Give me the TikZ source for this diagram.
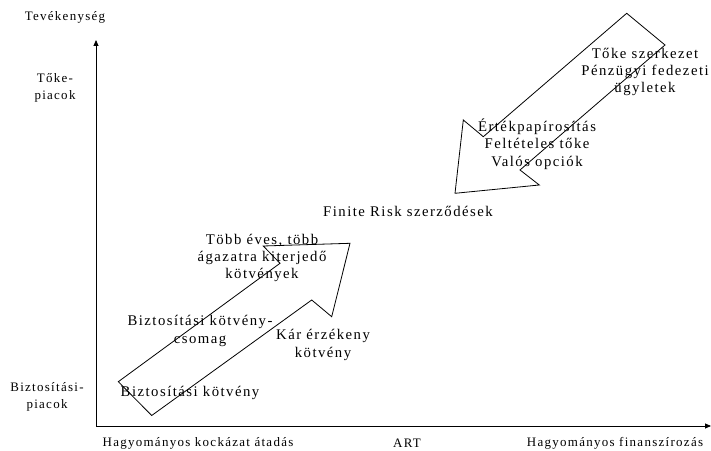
\documentclass[tikz,border=0pt]{standalone}
\usepackage{fontspec}
\setmainfont{Liberation Serif}[LetterSpace=10]
\usetikzlibrary{arrows.meta}
\begin{document}
\begin{tikzpicture}[x=1bp,y=-1bp,
  lbl/.style={font=\fontsize{14.8}{17.5}\selectfont, align=center, inner sep=0pt},
  axislbl/.style={font=\fontsize{13}{16.5}\selectfont, align=center, inner sep=0pt},
  axis/.style={line width=0.8bp, -{Triangle[length=6bp,width=5bp]}},
  bigarrow/.style={draw, line width=0.8bp, line join=miter}]
\useasboundingbox (0,0) rectangle (711,451);
% axes
\coordinate (o) at (96,426);
\coordinate (ytop) at (96,40);
\coordinate (xend) at (711,426);
\draw[axis] (o) -- (ytop);
\draw[axis] (o) -- (xend);
% up arrow
\draw[bigarrow] (118.3,381.7) -- (280,263.3) -- (263.3,246) -- (350,243.3) -- (331.7,316.7) -- (311.7,300) -- (151.7,415.5) -- cycle;
% down arrow
\draw[bigarrow] (626.7,13.3) -- (665,45) -- (520,170) -- (539.3,185) -- (455,193.3) -- (463.3,120) -- (483.3,136.7) -- cycle;
% axis labels
\node[axislbl] (tev) at (65,17) {Tevékenység};
\node[axislbl] (toke) at (55,88) {Tőke-\\piacok};
\node[axislbl] (bizp) at (47,397) {Biztosítási-\\piacok};
\node[axislbl] (hka) at (198,443) {Hagyományos kockázat átadás};
\node[axislbl] (art) at (407,443) {ART};
\node[axislbl] (hf) at (615,443) {Hagyományos finanszírozás};
% item labels
\node[lbl] (bk) at (190,393) {Biztosítási kötvény};
\node[lbl] (bkcs) at (200,331) {Biztosítási kötvény-\\csomag};
\node[lbl] (tobb) at (262,258) {Több éves, több\\ágazatra kiterjedő\\kötvények};
\node[lbl] (kar) at (323,345) {Kár érzékeny\\kötvény};
\node[lbl] (fin) at (408,211) {Finite Risk szerződések};
\node[lbl] (ert) at (537,144) {Értékpapírosítás\\Feltételes tőke\\Valós opciók};
\node[lbl] (tsz) at (645,72) {Tőke szerkezet\\Pénzügyi fedezeti\\ügyletek};
\end{tikzpicture}
\end{document}
